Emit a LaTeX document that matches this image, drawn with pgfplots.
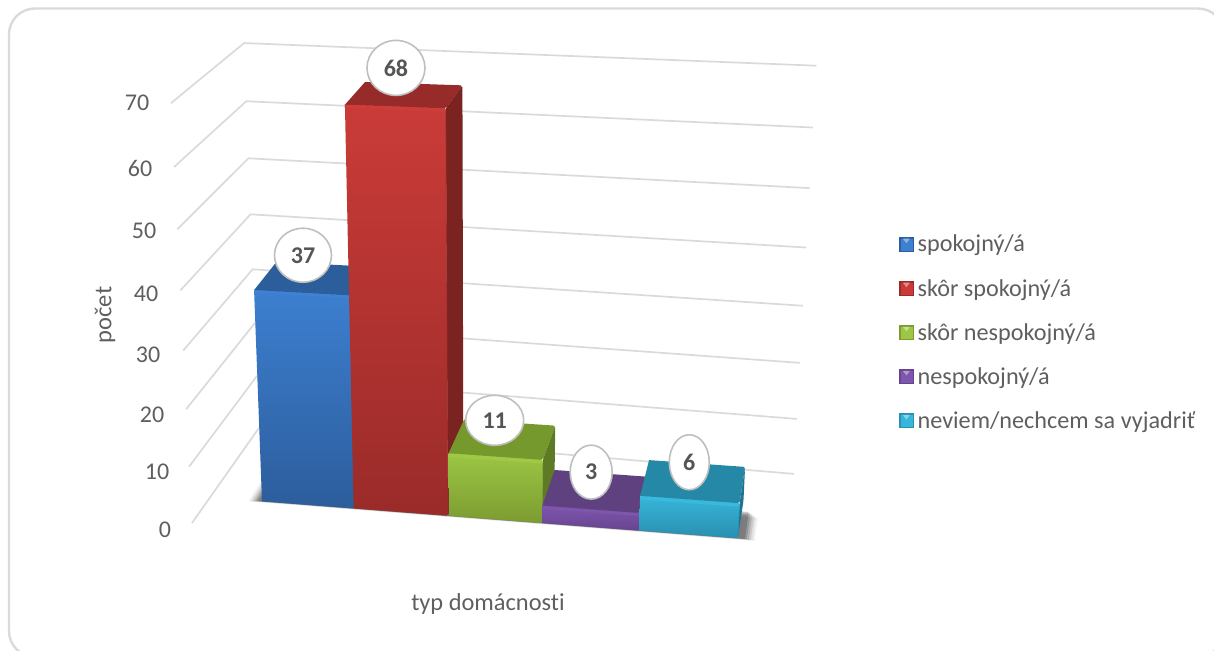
\documentclass[border=0pt]{standalone}
\usepackage{pgfplots}
\pgfplotsset{compat=1.18}
\usepackage{fontspec}
\setmainfont[Ligatures=NoCommon]{Carlito}
\usetikzlibrary{shapes.geometric}
\definecolor{txt}{HTML}{5F5F5F}
\definecolor{gridc}{HTML}{DADADA}
% front top / front bottom / roof / side / highlight
\definecolor{aT}{HTML}{3D7FD0}\definecolor{aB}{HTML}{2C5D9C}\definecolor{aR}{HTML}{2B5E9B}\definecolor{aS}{HTML}{234C7E}\definecolor{aH}{HTML}{3F82D4}
\definecolor{bT}{HTML}{CA3B38}\definecolor{bB}{HTML}{9A2B29}\definecolor{bR}{HTML}{972B29}\definecolor{bS}{HTML}{7A2321}\definecolor{bH}{HTML}{CF3D3A}
\definecolor{cT}{HTML}{9CC644}\definecolor{cB}{HTML}{7C9C30}\definecolor{cR}{HTML}{76992E}\definecolor{cS}{HTML}{5F7A24}\definecolor{cH}{HTML}{A0CA46}
\definecolor{dT}{HTML}{7E56AD}\definecolor{dB}{HTML}{674490}\definecolor{dR}{HTML}{5F417F}\definecolor{dS}{HTML}{4E3568}\definecolor{dH}{HTML}{7E56AD}
\definecolor{eT}{HTML}{36B6DA}\definecolor{eB}{HTML}{2A8FB0}\definecolor{eR}{HTML}{2588A6}\definecolor{eS}{HTML}{1F7590}\definecolor{eH}{HTML}{38B9DD}
% projection of (category position u, depth d, value v) onto the picture
\newcommand\PW{(1-0.00928*\thisrow{u}+0.0353*\thisrow{d}-0.00096*\thisrow{v})}
\newcommand\PX{(262+88.35*\thisrow{u}+31.5*\thisrow{d}-0.458*\thisrow{v})/\PW}
\newcommand\PY{(501+2.4*\thisrow{u}-18.1*\thisrow{d}-5.978*\thisrow{v})/\PW}
\newcommand\face[2]{\addplot[draw=none,forget plot,#1] table[row sep=\\,x expr=\PX,y expr=\PY]{#2};}
\newcommand\gridline[1]{\addplot[color=gridc,line width=1.7bp,forget plot] table[row sep=\\,x expr=\PX,y expr=\PY]{u d v\\ -0.58 -0.72 #1\\ -0.55 2.08 #1\\ 5.49 1.85 #1\\};}
% u0 u1 value value-of-bevel colour-prefix
\newcommand\cube[5]{%
  \face{fill=#5R,rounded corners=2bp}{u d v\\ #1 0 #3\\ #2 0 #3\\ #2 1 #3\\ #1 1 #3\\}
  \face{fill=#5S,rounded corners=2bp}{u d v\\ #2 0 0\\ #2 1 0\\ #2 1 #3\\ #2 0 #3\\}
  \face{top color=#5T,bottom color=#5B,draw=#5B,line width=0.6bp,rounded corners=1.5bp}{u d v\\ #1 0 0\\ #2 0 0\\ #2 0 #3\\ #1 0 #3\\}
  \face{fill=#5H,rounded corners=1bp}{u d v\\ #1 0 #4\\ #2 0 #4\\ #2 0 #3\\ #1 0 #3\\}
}
% u value dx dy width height
\newcommand\bubble[6]{\addplot[draw=none,forget plot,point meta=explicit,
   nodes near coords={\pgfmathprintnumber[assume math mode=true]{\pgfplotspointmeta}},
   nodes near coords align={anchor=center},
   every node near coord/.append style={ellipse,anchor=center,fill=white,draw=black!25,line width=1.6bp,
     minimum width=#5bp,minimum height=#6bp,inner sep=0pt,text=txt!90!black,
     font=\fontsize{24bp}{28bp}\selectfont\bfseries}]
   table[row sep=\\,meta=v,x expr={\PX+(#3)},y expr={\PY+(#4)}]{u d v\\ #1 0.5 #2\\};}
\newcommand\tick[3]{\node[text=txt,font=\fontsize{24bp}{28bp}\selectfont] at (axis cs:#1,#2) {#3};}
\newcommand\swatch[1]{\addlegendimage{legend image code/.code={
   \fill[#1B] (0bp,-7bp) rectangle (14bp,7bp);
   \fill[#1T] (1.5bp,-5.5bp) rectangle (12.5bp,5.5bp);
   \fill[#1H!60!white] (4bp,5.5bp) -- (10bp,5.5bp) -- (7bp,1.5bp) -- cycle;}}}
\begin{document}
\begin{tikzpicture}
\useasboundingbox (0,0) rectangle (1214bp,651bp);
\begin{axis}[at={(0,0)},anchor=south west,scale only axis,width=1214bp,height=651bp,
  xmin=0,xmax=1214,ymin=0,ymax=651,y dir=reverse,hide axis,clip=false,
  legend style={draw=none,fill=none,at={(axis cs:899,233)},anchor=north west,
    font=\fontsize{24.2bp}{28bp}\selectfont,text=txt,row sep=21.8bp,inner sep=0pt,
    /tikz/every odd column/.style={column sep=2bp}},
  legend cell align=left]
  \draw[gridc,line width=2.4bp,rounded corners=26bp] (axis cs:9,8.5) rectangle (axis cs:1224,657);
  \gridline{0}\gridline{10}\gridline{20}\gridline{30}\gridline{40}\gridline{50}\gridline{60}\gridline{70}
  % soft shadow on the floor
  \face{fill=black,opacity=0.05}{u d v\\ -0.14 -0.04 0\\ 5.17 -0.04 0\\ 5.17 0.55 0\\ -0.14 0.55 0\\}
  \face{fill=black,opacity=0.07}{u d v\\ -0.12 -0.03 0\\ 5.15 -0.03 0\\ 5.15 0.58 0\\ -0.12 0.58 0\\}
  \face{fill=black,opacity=0.10}{u d v\\ -0.10 -0.025 0\\ 5.13 -0.025 0\\ 5.13 0.61 0\\ -0.10 0.61 0\\}
  \face{fill=black,opacity=0.12}{u d v\\ -0.08 -0.02 0\\ 5.11 -0.02 0\\ 5.11 0.64 0\\ -0.08 0.64 0\\}
  \face{fill=black,opacity=0.15}{u d v\\ -0.06 -0.015 0\\ 5.09 -0.015 0\\ 5.09 0.67 0\\ -0.06 0.67 0\\}
  \face{fill=black,opacity=0.18}{u d v\\ -0.04 -0.01 0\\ 5.07 -0.01 0\\ 5.07 0.7 0\\ -0.04 0.7 0\\}
  % bars: value 37, 68, 11, 3, 6
  \cube{0}{1.01}{37}{36.6}{a}
  \cube{1}{2.01}{68}{67.5}{b}
  \cube{2.02}{3}{11}{10.4}{c}
  \cube{3}{4}{3}{2.5}{d}
  \cube{4}{5}{6}{5.4}{e}
  \bubble{0.5}{37}{-9}{-23}{57}{54}
  \bubble{1.5}{68}{-8}{-27}{58}{55}
  \bubble{2.5}{11}{-7}{-19}{58}{50}
  \bubble{3.5}{3}{-5}{-19}{42}{54}
  \bubble{4.5}{6}{-4}{-19}{40}{55}
  \tick{137}{103}{70}\tick{140}{168}{60}\tick{144}{231}{50}\tick{146}{294}{40}
  \tick{148}{355}{30}\tick{152}{415}{20}\tick{157}{472}{10}\tick{165}{530}{0}
  \node[text=txt,font=\fontsize{24.5bp}{28bp}\selectfont,rotate=90] at (axis cs:105,315) {počet};
  \node[text=txt,font=\fontsize{24.4bp}{28bp}\selectfont] at (axis cs:488,604) {typ domácnosti};
  \swatch{a}\addlegendentry{spokojný/á}
  \swatch{b}\addlegendentry{skôr spokojný/á}
  \swatch{c}\addlegendentry{skôr nespokojný/á}
  \swatch{d}\addlegendentry{nespokojný/á}
  \swatch{e}\addlegendentry{neviem/nechcem sa vyjadriť}
\end{axis}
\end{tikzpicture}
\end{document}
